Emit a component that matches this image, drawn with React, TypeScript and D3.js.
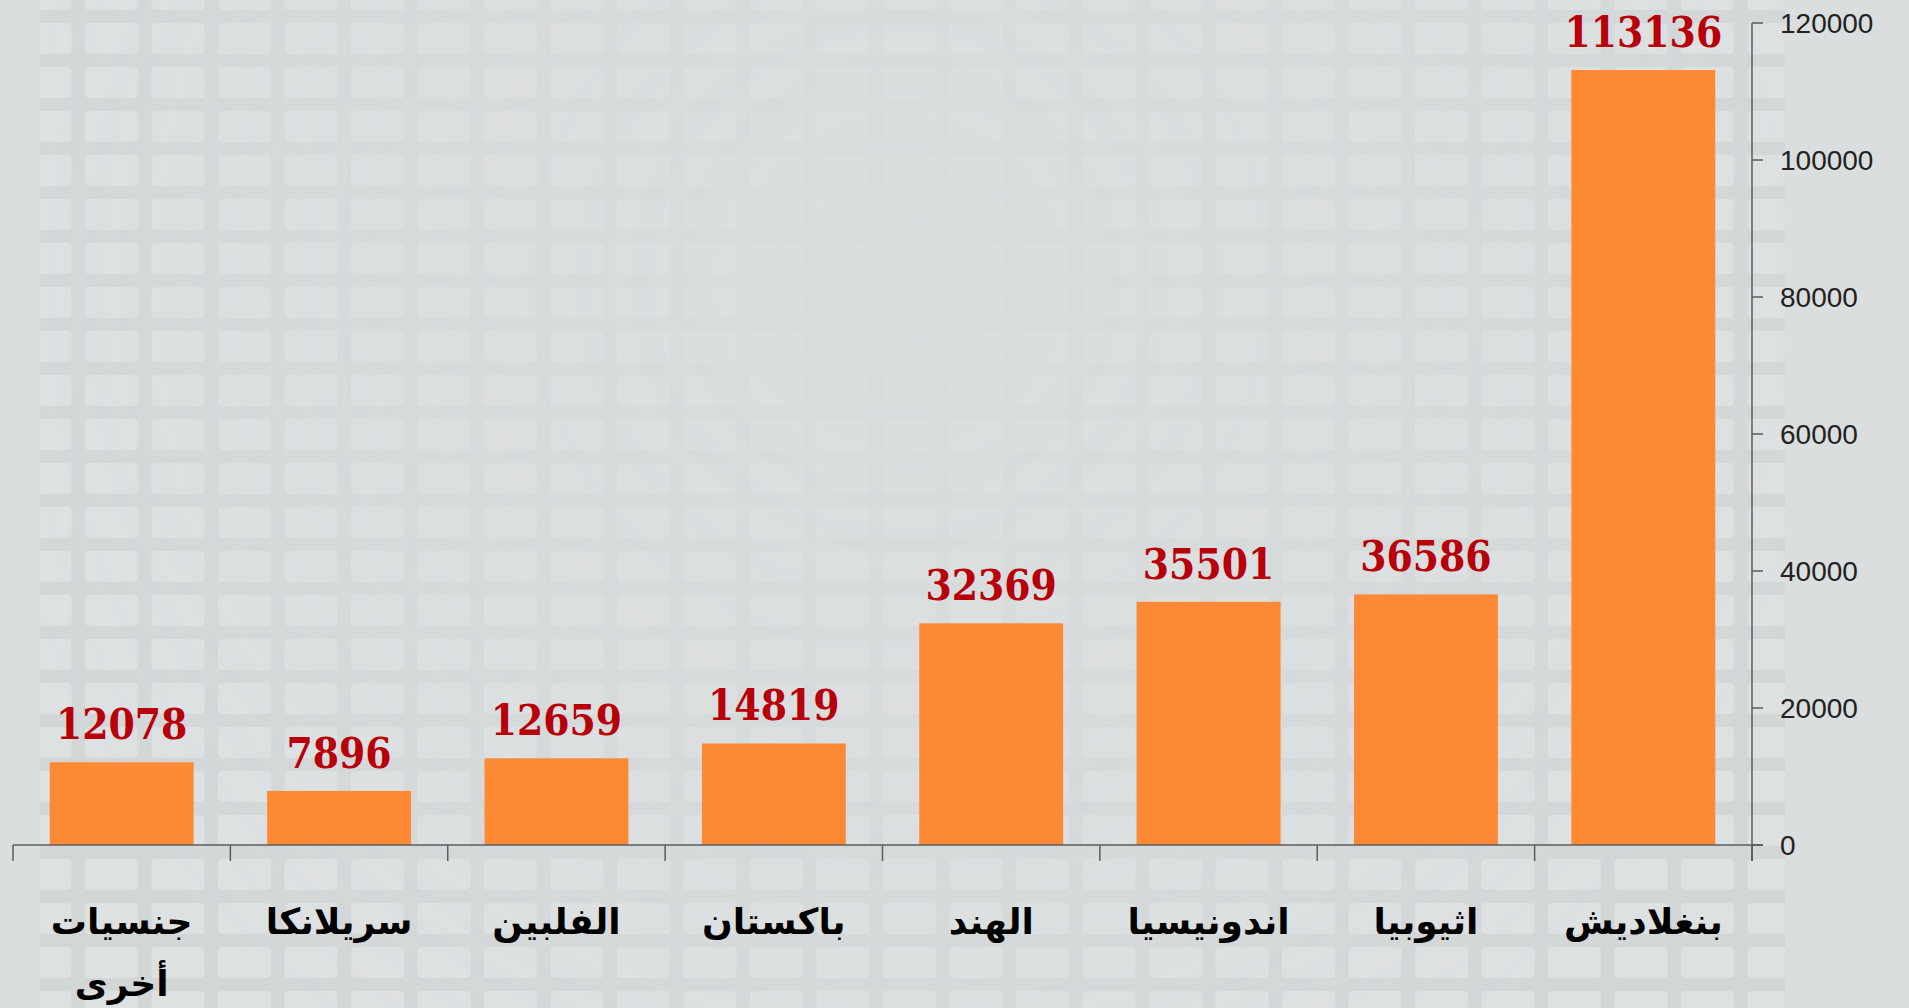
import { useEffect, useRef } from 'react'
import * as d3 from 'd3'

// categories are listed left to right as they appear
const categories = ['جنسيات أخرى', 'سريلانكا', 'الفلبين', 'باكستان', 'الهند', 'اندونيسيا', 'اثيوبيا', 'بنغلاديش']
const values = [12078, 7896, 12659, 14819, 32369, 35501, 36586, 113136]
const yTicks = [0, 20000, 40000, 60000, 80000, 100000, 120000]

const W = 1909
const H = 1008

export default function App() {
  const svgRef = useRef<SVGSVGElement>(null)

  useEffect(() => {
    if (!svgRef.current) return
    const svg = d3.select(svgRef.current)
    svg.selectAll('*').remove()

    const left = 13
    const right = 1752
    const top = 23
    const bottom = 845

    const x = d3.scaleBand<string>()
      .domain(categories)
      .range([left, right])
      .paddingInner(0.338)
      .paddingOuter(0.169)

    const y = d3.scaleLinear()
      .domain([0, 120000])
      .range([bottom, top])

    // background
    const defs = svg.append('defs')
    const pat = defs.append('pattern')
      .attr('id', 'grid')
      .attr('patternUnits', 'userSpaceOnUse')
      .attr('width', 66.5)
      .attr('height', 44)
      .attr('x', 85)
      .attr('y', 23)
    pat.append('rect').attr('width', 66.5).attr('height', 44).attr('fill', '#cfd3d4')
    pat.append('rect')
      .attr('x', 0).attr('y', 0)
      .attr('width', 53).attr('height', 31)
      .attr('rx', 4)
      .attr('fill', '#dfe2e3')

    const grad = defs.append('radialGradient')
      .attr('id', 'fade')
      .attr('gradientUnits', 'userSpaceOnUse')
      .attr('cx', 900).attr('cy', 280).attr('r', 950)
    grad.append('stop').attr('offset', '0%').attr('stop-color', '#fff').attr('stop-opacity', 0.05)
    grad.append('stop').attr('offset', '55%').attr('stop-color', '#fff').attr('stop-opacity', 0.35)
    grad.append('stop').attr('offset', '100%').attr('stop-color', '#fff').attr('stop-opacity', 0.7)
    const mask = defs.append('mask').attr('id', 'gridMask')
    mask.append('rect').attr('width', W).attr('height', H).attr('fill', 'url(#fade)')

    svg.append('rect').attr('width', W).attr('height', H).attr('fill', '#dadedf')
    svg.append('rect')
      .attr('x', 40).attr('y', 0)
      .attr('width', 1745).attr('height', H)
      .attr('fill', 'url(#grid)')
      .attr('mask', 'url(#gridMask)')

    // bars
    svg.append('g')
      .selectAll('rect')
      .data(values)
      .enter()
      .append('rect')
      .attr('x', (_d, i) => x(categories[i]) as number)
      .attr('y', d => y(d))
      .attr('width', x.bandwidth())
      .attr('height', d => y(0) - y(d))
      .attr('fill', '#fe8935')

    // value labels
    svg.append('g')
      .selectAll('text')
      .data(values)
      .enter()
      .append('text')
      .attr('x', (_d, i) => (x(categories[i]) as number) + x.bandwidth() / 2)
      .attr('y', d => y(d) - 23)
      .attr('text-anchor', 'middle')
      .style('font-family', "'DejaVu Serif Condensed', 'DejaVu Serif', serif")
      .style('font-stretch', 'condensed')
      .style('font-weight', 'bold')
      .style('font-size', '42px')
      .style('fill', '#b8000b')
      .text(d => d)

    // x axis
    const axisColor = '#5a5c5e'
    svg.append('line')
      .attr('x1', left).attr('x2', right + 11)
      .attr('y1', bottom).attr('y2', bottom)
      .attr('stroke', axisColor).attr('stroke-width', 1.5)
    const bounds = categories.map(c => (x(c) as number) - x.step() * x.paddingInner() / 2)
    bounds.push(right)
    svg.append('g')
      .selectAll('line')
      .data(bounds)
      .enter()
      .append('line')
      .attr('x1', d => d).attr('x2', d => d)
      .attr('y1', bottom).attr('y2', bottom + 16)
      .attr('stroke', axisColor).attr('stroke-width', 1.5)

    // category labels
    const labels = svg.append('g')
      .selectAll('text')
      .data(categories)
      .enter()
      .append('text')
      .attr('x', d => (x(d) as number) + x.bandwidth() / 2)
      .attr('y', 934)
      .attr('text-anchor', 'middle')
      .attr('direction', 'rtl')
      .style('font-family', "'DejaVu Sans', sans-serif")
      .style('font-weight', 'bold')
      .style('font-size', '36px')
      .style('fill', '#000')
    labels.each(function (d) {
      const t = d3.select(this)
      const parts = d === 'جنسيات أخرى' ? ['جنسيات', 'أخرى'] : [d]
      parts.forEach((p, i) => {
        t.append('tspan')
          .attr('x', t.attr('x'))
          .attr('dy', i === 0 ? 0 : 62)
          .text(p)
      })
    })

    // y axis (right)
    svg.append('line')
      .attr('x1', right).attr('x2', right)
      .attr('y1', top).attr('y2', bottom + 16)
      .attr('stroke', axisColor).attr('stroke-width', 1.5)
    const yAxis = svg.append('g')
    yAxis.selectAll('line')
      .data(yTicks)
      .enter()
      .append('line')
      .attr('x1', right).attr('x2', right + 11)
      .attr('y1', d => y(d)).attr('y2', d => y(d))
      .attr('stroke', axisColor).attr('stroke-width', 1.5)
    yAxis.selectAll('text')
      .data(yTicks)
      .enter()
      .append('text')
      .attr('x', right + 28)
      .attr('y', d => y(d))
      .attr('dy', '0.36em')
      .style('font-family', "'Liberation Sans', Arial, sans-serif")
      .style('font-size', '28px')
      .style('fill', '#222')
      .text(d => d)
  }, [])

  return (
    <svg
      ref={svgRef}
      width={W}
      height={H}
      style={{ position: 'absolute', left: 0, top: 0, display: 'block' }}
    />
  )
}
